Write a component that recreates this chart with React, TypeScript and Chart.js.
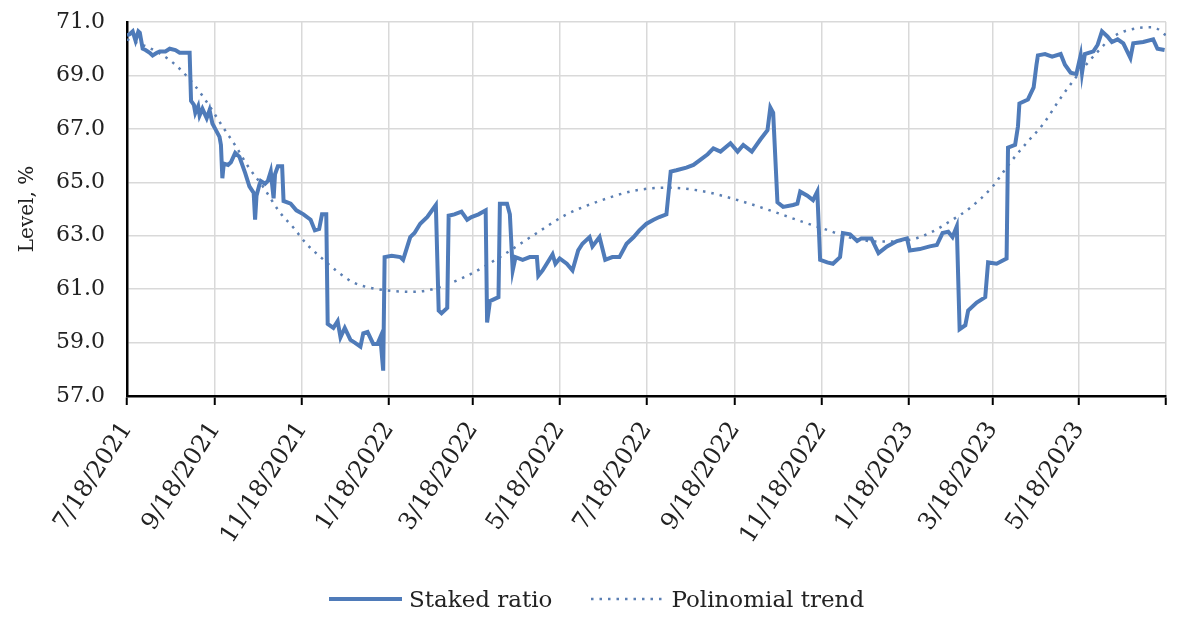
import { useEffect, useRef } from "react"
import Chart from "chart.js/auto"

// days since 7/18/2021 and staked ratio (%)
const stakedDays = [
  0, 2, 4, 6, 8, 9, 11, 13, 16, 18,
  21, 23, 27, 30, 34, 37, 41, 44, 45, 47,
  48, 50, 51, 53, 56, 58, 60, 62, 65, 66,
  67, 68, 71, 73, 76, 79, 83, 86, 89, 90,
  91, 93, 94, 97, 99, 101, 103, 104, 106, 109,
  110, 115, 119, 124, 129, 132, 135, 137, 140, 141,
  145, 148, 150, 153, 157, 160, 164, 166, 169, 173,
  176, 178, 180, 181, 186, 192, 194, 199, 202, 206,
  211, 215, 217, 219, 221, 225, 226, 230, 235, 239,
  242, 247, 252, 253, 255, 261, 262, 267, 269, 271,
  273, 278, 283, 288, 289, 292, 299, 301, 304, 309,
  313, 317, 320, 325, 327, 332, 336, 341, 346, 351,
  356, 360, 365, 370, 374, 379, 382, 386, 393, 398,
  403, 408, 412, 417, 424, 429, 433, 439, 445, 450,
  452, 454, 457, 461, 468, 471, 473, 478, 482, 485,
  487, 492, 496, 501, 503, 508, 513, 516, 523, 528,
  534, 541, 548, 550, 557, 564, 569, 573, 577, 580,
  583, 585, 589, 591, 597, 603, 605, 611, 618, 619,
  624, 626, 627, 633, 637, 639, 640, 645, 650, 656,
  659, 663, 667, 670, 671, 673, 679, 682, 685, 689,
  692, 696, 700, 705, 707, 714, 721, 724, 729,
]

const stakedValues = [
  70.5, 70.55, 70.65, 70.3, 70.65, 70.6, 70.0, 69.95, 69.85, 69.75,
  69.85, 69.9, 69.9, 70.0, 69.95, 69.85, 69.85, 69.85, 68.05, 67.9,
  67.6, 67.85, 67.5, 67.75, 67.4, 67.7, 67.2, 67.0, 66.7, 66.4,
  65.15, 65.7, 65.65, 65.75, 66.1, 65.95, 65.35, 64.85, 64.6, 63.6,
  64.5, 64.9, 65.05, 64.95, 65.05, 65.4, 64.4, 65.3, 65.6, 65.6,
  64.3, 64.2, 63.95, 63.8, 63.6, 63.2, 63.25, 63.8, 63.8, 59.7,
  59.55, 59.8, 59.2, 59.55, 59.1, 59.0, 58.85, 59.35, 59.4, 58.95,
  58.95, 59.2, 57.95, 62.2, 62.25, 62.2, 62.1, 62.95, 63.1, 63.45,
  63.7, 64.0, 64.15, 60.2, 60.1, 60.3, 63.75, 63.8, 63.9, 63.6,
  63.7, 63.8, 63.95, 59.75, 60.55, 60.7, 64.2, 64.2, 63.8, 61.7,
  62.2, 62.1, 62.2, 62.2, 61.5, 61.7, 62.3, 61.95, 62.15, 61.95,
  61.7, 62.45, 62.7, 62.95, 62.6, 62.95, 62.1, 62.2, 62.2, 62.7,
  62.95, 63.2, 63.45, 63.6, 63.7, 63.8, 65.4, 65.45, 65.55, 65.65,
  65.85, 66.05, 66.27, 66.15, 66.46, 66.15, 66.4, 66.15, 66.6, 66.95,
  67.8, 67.6, 64.25, 64.08, 64.15, 64.2, 64.65, 64.5, 64.33, 64.65,
  62.1, 62.0, 61.95, 62.2, 63.1, 63.05, 62.8, 62.9, 62.9, 62.35,
  62.6, 62.8, 62.9, 62.45, 62.5, 62.6, 62.65, 63.1, 63.15, 62.95,
  63.35, 59.5, 59.65, 60.2, 60.5, 60.7, 62.0, 61.95, 62.15, 66.3,
  66.4, 67.1, 67.95, 68.1, 68.55, 69.4, 69.75, 69.8, 69.7, 69.8,
  69.4, 69.1, 69.05, 69.75, 69.1, 69.8, 69.9, 70.15, 70.65, 70.45,
  70.25, 70.35, 70.2, 69.65, 70.2, 70.25, 70.35, 70.0, 69.95,
]

// polynomial trend
const trendDays = [
  0, 15, 28, 37, 48, 58, 67, 77, 85, 96,
  107, 117, 126, 136, 148, 159, 171, 183, 201, 215,
  239, 262, 285, 309, 332, 356, 379, 403, 426, 450,
  473, 490, 510, 529, 550, 564, 580, 592, 608, 620,
  632, 644, 655, 667, 681, 693, 710, 721, 730,
]

const trendValues = [
  70.35, 70.05, 69.65, 69.25, 68.6, 67.85, 67.1, 66.3, 65.6, 64.8,
  63.9, 63.3, 62.7, 62.2, 61.65, 61.25, 61.05, 60.95, 60.9, 61.0,
  61.5, 62.2, 63.0, 63.8, 64.3, 64.68, 64.8, 64.68, 64.38, 63.98,
  63.55, 63.25, 62.9, 62.78, 62.85, 63.1, 63.6, 64.03, 64.83, 65.7,
  66.47, 67.2, 68.08, 68.95, 69.83, 70.45, 70.77, 70.8, 70.5,
]

const tickDays = [0, 62, 123, 184, 243, 304, 365, 427, 488, 549, 608, 669, 730]
const tickLabels = [
  "7/18/2021", "9/18/2021", "11/18/2021", "1/18/2022", "3/18/2022", "5/18/2022",
  "7/18/2022", "9/18/2022", "11/18/2022", "1/18/2023", "3/18/2023", "5/18/2023", "",
]

const FONT = "'DejaVu Serif', serif"
const TEXT = "#222222"
const GRID = "#d9d9d9"
const LINE = "#4f7bb9"
const TREND = "#5b7fb3"

export default function App() {
  const canvasRef = useRef<HTMLCanvasElement | null>(null)

  useEffect(() => {
    if (!canvasRef.current) return

    const chart = new Chart(canvasRef.current, {
      type: "line",
      data: {
        datasets: [
          {
            label: "Staked ratio",
            data: stakedDays.map((d, i) => ({ x: d, y: stakedValues[i] })),
            borderColor: LINE,
            borderWidth: 4,
            pointRadius: 0,
            tension: 0,
          },
          {
            label: "Polinomial trend",
            data: trendDays.map((d, i) => ({ x: d, y: trendValues[i] })),
            borderColor: TREND,
            borderWidth: 2.5,
            borderDash: [2.5, 6],
            pointRadius: 0,
            cubicInterpolationMode: "monotone",
          },
        ],
      },
      options: {
        animation: false,
        responsive: true,
        maintainAspectRatio: false,
        layout: { padding: { top: 22, right: 34, left: 0, bottom: 0 } },
        plugins: {
          tooltip: { enabled: false },
          legend: { display: false },
        },
        scales: {
          x: {
            type: "linear",
            min: 0,
            max: 730,
            afterFit: (s: any) => {
              s.height = 233
              s.paddingLeft = 0
              s.paddingRight = 0
            },
            afterBuildTicks: (s: any) => {
              s.ticks = tickDays.map((v) => ({ value: v }))
            },
            ticks: {
              autoSkip: false,
              minRotation: 57,
              maxRotation: 57,
              padding: 12,
              color: TEXT,
              font: { family: FONT, size: 24 },
              callback: (v: any) => {
                const i = tickDays.indexOf(Number(v))
                return i >= 0 ? tickLabels[i] : ""
              },
            },
            grid: {
              color: GRID,
              lineWidth: 1.5,
              tickColor: "#000",
              tickLength: 9,
              tickWidth: 2,
            },
            border: { color: "#000", width: 2.5 },
          },
          y: {
            min: 57,
            max: 71,
            afterFit: (s: any) => {
              s.width = 127
              s.paddingTop = 0
              s.paddingBottom = 0
            },
            ticks: {
              stepSize: 2,
              padding: 22,
              color: TEXT,
              font: { family: FONT, size: 22 },
              callback: (v: any) => Number(v).toFixed(1),
            },
            title: {
              display: true,
              text: "Level, %",
              color: TEXT,
              font: { family: FONT, size: 20 },
              padding: { top: 16, bottom: 0 },
            },
            grid: { color: GRID, lineWidth: 1.5, drawTicks: false },
            border: { color: "#000", width: 2.5 },
          },
        },
      },
    })

    return () => chart.destroy()
  }, [])

  const legendText = { fontFamily: FONT, fontSize: 23, color: TEXT, lineHeight: "28px" }

  return (
    <div style={{ position: "fixed", left: 0, top: 0, width: 1200, height: 629, background: "#fff" }}>
      <canvas ref={canvasRef} />
      <div
        style={{
          position: "absolute",
          left: 329,
          top: 585,
          height: 28,
          display: "flex",
          alignItems: "center",
          whiteSpace: "nowrap",
        }}
      >
        <svg width={73} height={8} style={{ marginRight: 7 }}>
          <line x1={0} y1={4} x2={73} y2={4} stroke={LINE} strokeWidth={4} />
        </svg>
        <span style={legendText}>Staked ratio</span>
        <svg width={73} height={8} style={{ marginLeft: 39, marginRight: 7 }}>
          <line x1={0} y1={4} x2={73} y2={4} stroke={TREND} strokeWidth={2.5} strokeDasharray="2.5 6" />
        </svg>
        <span style={legendText}>Polinomial trend</span>
      </div>
    </div>
  )
}
